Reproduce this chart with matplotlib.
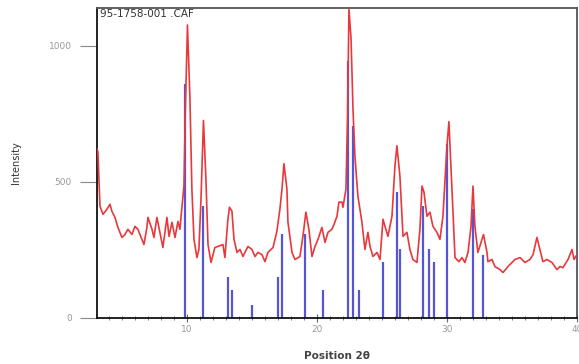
import matplotlib
matplotlib.use("Agg")
from matplotlib import pyplot as plt
from matplotlib.ticker import MultipleLocator

two_theta = [3.08, 3.15, 3.31, 3.54, 3.85, 4.08, 4.23, 4.46, 4.69, 5.0,
             5.23, 5.46, 5.77, 6.0, 6.23, 6.54, 6.69, 6.92, 7.0, 7.31,
             7.46, 7.69, 7.92, 8.15, 8.46, 8.62, 8.85, 9.08, 9.31, 9.46,
             9.62, 9.77, 9.88, 10.04, 10.23, 10.38, 10.54, 10.77, 10.92, 11.08,
             11.27, 11.46, 11.62, 11.85, 12.15, 12.38, 12.77, 12.92, 13.15, 13.27,
             13.46, 13.62, 13.85, 14.08, 14.31, 14.69, 15.0, 15.23, 15.46, 15.77,
             16.0, 16.23, 16.62, 16.92, 17.15, 17.31, 17.46, 17.69, 17.77, 18.08,
             18.31, 18.69, 18.92, 19.15, 19.38, 19.62, 19.85, 20.08, 20.38, 20.62,
             20.85, 21.15, 21.31, 21.54, 21.69, 21.92, 22.0, 22.23, 22.35, 22.46,
             22.62, 22.77, 22.92, 23.15, 23.46, 23.69, 23.92, 24.08, 24.31, 24.62,
             24.85, 25.08, 25.23, 25.46, 25.77, 26.0, 26.15, 26.38, 26.62, 26.92,
             27.15, 27.38, 27.69, 27.92, 28.08, 28.23, 28.46, 28.69, 28.92, 29.23,
             29.46, 29.69, 30.0, 30.15, 30.38, 30.62, 30.92, 31.15, 31.38, 31.62,
             31.85, 32.0, 32.15, 32.38, 32.69, 32.81, 33.08, 33.15, 33.46, 33.69,
             34.08, 34.31, 34.69, 35.0, 35.23, 35.62, 36.0, 36.38, 36.62, 36.92,
             37.15, 37.38, 37.69, 38.08, 38.46, 38.69, 38.92, 39.31, 39.62, 39.77,
             40.0]
counts = [622, 611, 411, 381, 400, 418, 392, 370, 333, 296,
          307, 326, 307, 337, 326, 289, 270, 333, 370, 326,
          296, 370, 315, 259, 370, 300, 352, 296, 355, 326,
          411, 485, 770, 1077, 807, 474, 289, 222, 252, 437,
          726, 511, 270, 204, 259, 263, 270, 222, 363, 407,
          393, 289, 241, 252, 226, 263, 252, 226, 241, 233,
          207, 241, 259, 319, 400, 474, 567, 474, 352, 241,
          215, 226, 300, 389, 326, 226, 263, 289, 333, 278,
          315, 326, 344, 374, 426, 426, 407, 474, 733, 1135,
          1030, 770, 596, 448, 352, 252, 315, 263, 226, 241,
          215, 363, 337, 300, 374, 559, 633, 522, 300, 315,
          252, 215, 204, 326, 485, 463, 374, 389, 337, 315,
          289, 374, 633, 722, 474, 222, 207, 222, 204, 241,
          337, 485, 337, 241, 289, 307, 241, 207, 215, 189,
          178, 167, 189, 204, 215, 222, 204, 215, 233, 296,
          252, 207, 215, 204, 178, 189, 185, 215, 252, 215,
          233]

# reference card 95-1758-001 stick positions / heights
ref_pos = [9.85, 11.23, 13.15, 13.46, 15.0, 17.0, 17.3, 19.08, 20.46, 22.38,
           22.77, 23.23, 25.08, 26.15, 26.38, 28.15, 28.6, 29.0, 30.0, 32.0,
           32.77]
ref_int = [860, 410, 152, 104, 48, 152, 307, 307, 104, 944,
           707, 104, 204, 463, 252, 411, 252, 204, 640, 400,
           230]

fig = plt.figure(figsize=(5.79, 3.64), dpi=100)
ax = fig.add_axes([0.1675, 0.1264, 0.829, 0.852])

ax.vlines(ref_pos, 0, ref_int, color="#5555d5", linewidth=1.6, zorder=2)
ax.plot(two_theta, counts, color="#e8383c", linewidth=1.2, zorder=3)

ax.set_xlim(3.08, 40)
ax.set_ylim(0, 1140)
ax.set_xticks([10, 20, 30, 40])
ax.xaxis.set_minor_locator(MultipleLocator(1))
ax.set_yticks([0, 500, 1000])

ax.tick_params(axis="y", which="major", length=12, width=0.8, color="#888888",
               labelsize=6.5, labelcolor="#999999", pad=6)
ax.tick_params(axis="x", which="major", length=6, width=0.8, color="#666666",
               direction="inout", labelsize=6.5, labelcolor="#999999", pad=2)
ax.tick_params(axis="x", which="minor", length=3, width=0.6, color="#666666",
               direction="inout")

for side in ["left", "bottom"]:
    ax.spines[side].set_color("#111111")
    ax.spines[side].set_linewidth(1.3)
for side in ["top", "right"]:
    ax.spines[side].set_color("#555555")
    ax.spines[side].set_linewidth(1.3)

ax.text(0.006, 0.995, "95-1758-001 .CAF", transform=ax.transAxes,
        ha="left", va="top", fontsize=7.5, color="#333333")

ax.set_xlabel("Position 2θ", fontsize=7.5, color="#444444", fontweight="bold",
              labelpad=12)
ax.set_ylabel("Intensity", fontsize=7, color="#333333", labelpad=20)

fig.savefig("out.png", dpi=100)
